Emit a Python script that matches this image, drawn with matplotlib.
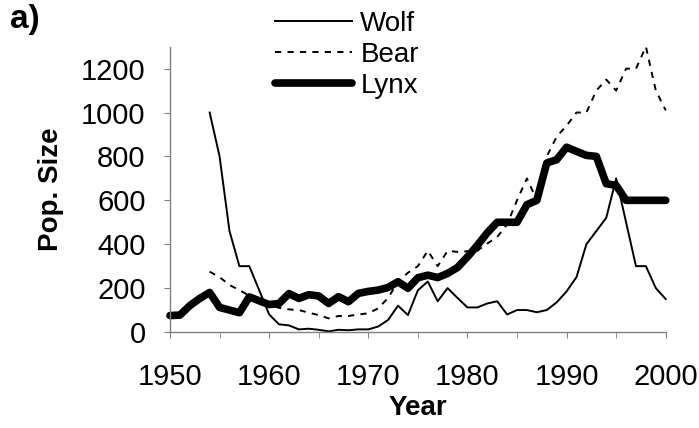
import matplotlib
matplotlib.use('Agg')
import matplotlib.pyplot as plt

plt.rcParams['font.family'] = ['Liberation Sans', 'DejaVu Sans']

years = list(range(1950, 2001))

# Wolf and Bear series start in 1954
wolf_years = list(range(1954, 2001))
wolf = [1000, 800, 460, 300, 300, 190, 80, 35, 30, 12,
        15, 10, 3, 10, 8, 12, 12, 25, 55, 120,
        77, 190, 230, 140, 200, 155, 112, 112, 130, 140,
        80, 100, 100, 90, 100, 135, 185, 250, 400, 460,
        520, 700, 500, 300, 300, 200, 150]

bear_years = list(range(1954, 2001))
bear = [275, 250, 214, 191, 165, 145, 125, 110, 103, 100,
        88, 77, 62, 73, 73, 80, 85, 108, 155, 230,
        270, 300, 370, 300, 370, 365, 368, 370, 403, 433,
        490, 600, 700, 600, 800, 890, 940, 1000, 1000, 1100,
        1150, 1100, 1200, 1200, 1300, 1100, 1010]

lynx = [75, 77, 120, 153, 180, 112, 100, 88, 160, 142,
        125, 130, 175, 153, 170, 164, 130, 161, 138, 176,
        185, 191, 203, 229, 199, 247, 259, 248, 267, 294,
        342, 395, 452, 500, 500, 500, 580, 600, 770, 785,
        842, 823, 805, 800, 676, 668, 600, 600, 600, 600,
        600]

fig = plt.figure(figsize=(6.99, 4.28), dpi=100)
ax = fig.add_axes([0.2432, 0.2243, 0.7092, 0.6666])

ax.plot(wolf_years, wolf, color='black', lw=1.4, label='Wolf', clip_on=False)
ax.plot(bear_years, bear, color='black', lw=1.4, ls=(0, (3.2, 3.2)), label='Bear', clip_on=False)
ax.plot(years, lynx, color='black', lw=5.5, label='Lynx', clip_on=False,
        solid_capstyle='round', solid_joinstyle='round')

ax.set_xlim(1950, 2000)
ax.set_ylim(0, 1300)
ax.set_xticks(range(1950, 2001, 10))
ax.set_xticks(range(1950, 2001, 5), minor=True)
ax.set_yticks(range(0, 1201, 200))

for s in ['top', 'right']:
    ax.spines[s].set_visible(False)
for s in ['left', 'bottom']:
    ax.spines[s].set_color('#808080')
    ax.spines[s].set_linewidth(1)

ax.tick_params(axis='both', which='both', color='#808080', length=4, labelsize=21)
ax.tick_params(axis='x', pad=18)
ax.tick_params(axis='y', pad=13.5)

ax.set_xlabel('Year', fontsize=20, fontweight='bold', labelpad=3)
ax.set_ylabel('Pop. Size', fontsize=20, fontweight='bold', labelpad=12)

fig.text(0.0143, 0.99, 'a)', fontsize=24, fontweight='bold', va='top', ha='left')

fig.legend(loc='upper left', bbox_to_anchor=(0.378, 1.0), frameon=False,
           fontsize=20, handlelength=2.77, handletextpad=0.29, labelspacing=0.17,
           borderaxespad=0)

fig.savefig('out.png', dpi=100)
